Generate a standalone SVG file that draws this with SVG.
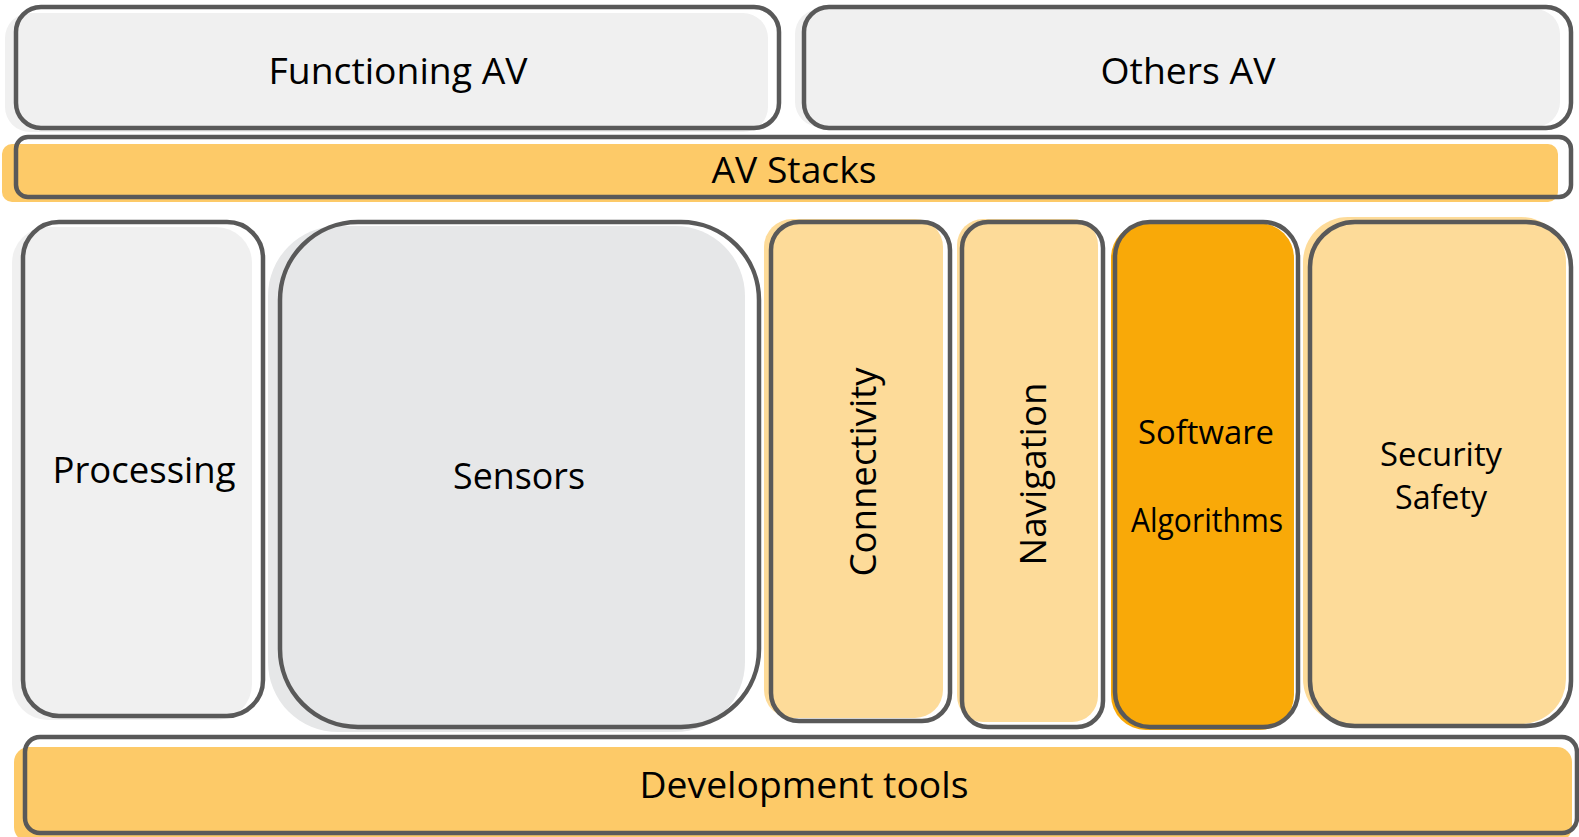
<svg xmlns="http://www.w3.org/2000/svg" width="1579" height="837" viewBox="0 0 1579 837">
<style>
.ol{fill:none;stroke:#595959;stroke-width:4.5}
.gray{fill:#F0F0F0}
.sens{fill:#E6E7E8}
.lo{fill:#FDDB99}
.mo{fill:#FDCA68}
.so{fill:#F9A908}
text{font-family:"Open Sans","Liberation Sans",sans-serif;fill:#000;text-anchor:middle}
.big{font-size:36px}
.mid{font-size:32px}
</style>
<rect width="1579" height="837" fill="#fff"/>
<g id="functioning-av">
<rect class="gray" x="5" y="13" width="763" height="119" rx="25"/>
<rect class="ol" x="16" y="7" width="763" height="121" rx="25"/>
<text class="big" x="398" y="84" textLength="259" lengthAdjust="spacingAndGlyphs">Functioning AV</text>
</g>
<g id="others-av">
<rect class="gray" x="795" y="9" width="765" height="118" rx="25"/>
<rect class="ol" x="804" y="7" width="767" height="121" rx="25"/>
<text class="big" x="1188" y="84" textLength="175" lengthAdjust="spacingAndGlyphs">Others AV</text>
</g>
<g id="av-stacks">
<rect class="mo" x="2" y="144" width="1556" height="58" rx="10"/>
<rect class="ol" x="16" y="137" width="1555" height="60" rx="12"/>
<text class="big" x="794" y="183" textLength="165" lengthAdjust="spacingAndGlyphs">AV Stacks</text>
</g>
<g id="processing">
<rect class="gray" x="12" y="227" width="240" height="493" rx="36"/>
<rect class="ol" x="23" y="222" width="240" height="494" rx="36"/>
<text class="big" x="144" y="483" textLength="183" lengthAdjust="spacingAndGlyphs">Processing</text>
</g>
<g id="sensors">
<rect class="sens" x="268" y="226" width="477" height="506" rx="70"/>
<rect class="ol" x="280" y="222" width="479" height="505" rx="78"/>
<text class="big" x="519" y="489" textLength="132" lengthAdjust="spacingAndGlyphs">Sensors</text>
</g>
<g id="connectivity">
<rect class="lo" x="764" y="219" width="179" height="499" rx="28"/>
<rect class="ol" x="771" y="222" width="179" height="499" rx="28"/>
<text class="big" transform="translate(876,472) rotate(-90)" x="0" y="0" textLength="209" lengthAdjust="spacingAndGlyphs">Connectivity</text>
</g>
<g id="navigation">
<rect class="lo" x="957" y="219" width="141" height="503" rx="26"/>
<rect class="ol" x="962" y="222" width="141" height="505" rx="26"/>
<text class="big" transform="translate(1046,474) rotate(-90)" x="0" y="0" textLength="183" lengthAdjust="spacingAndGlyphs">Navigation</text>
</g>
<g id="software-algorithms">
<rect class="so" x="1111" y="223" width="183" height="507" rx="35"/>
<rect class="ol" x="1115" y="222" width="183" height="505" rx="35"/>
<text class="mid" x="1206" y="444" textLength="136" lengthAdjust="spacingAndGlyphs">Software</text>
<text class="mid" x="1207" y="532" textLength="152" lengthAdjust="spacingAndGlyphs">Algorithms</text>
</g>
<g id="security-safety">
<rect class="lo" x="1303" y="217" width="263" height="507" rx="45"/>
<rect class="ol" x="1310" y="222" width="261" height="504" rx="45"/>
<text class="mid" x="1441" y="466" textLength="122" lengthAdjust="spacingAndGlyphs">Security</text>
<text class="mid" x="1441" y="509" textLength="92" lengthAdjust="spacingAndGlyphs">Safety</text>
</g>
<g id="development-tools">
<rect class="mo" x="14" y="747" width="1558" height="95" rx="15"/>
<rect class="ol" x="25" y="737" width="1552" height="96" rx="15"/>
<text class="big" x="804" y="798" textLength="329" lengthAdjust="spacingAndGlyphs">Development tools</text>
</g>
<g id="connectors"></g>
</svg>
